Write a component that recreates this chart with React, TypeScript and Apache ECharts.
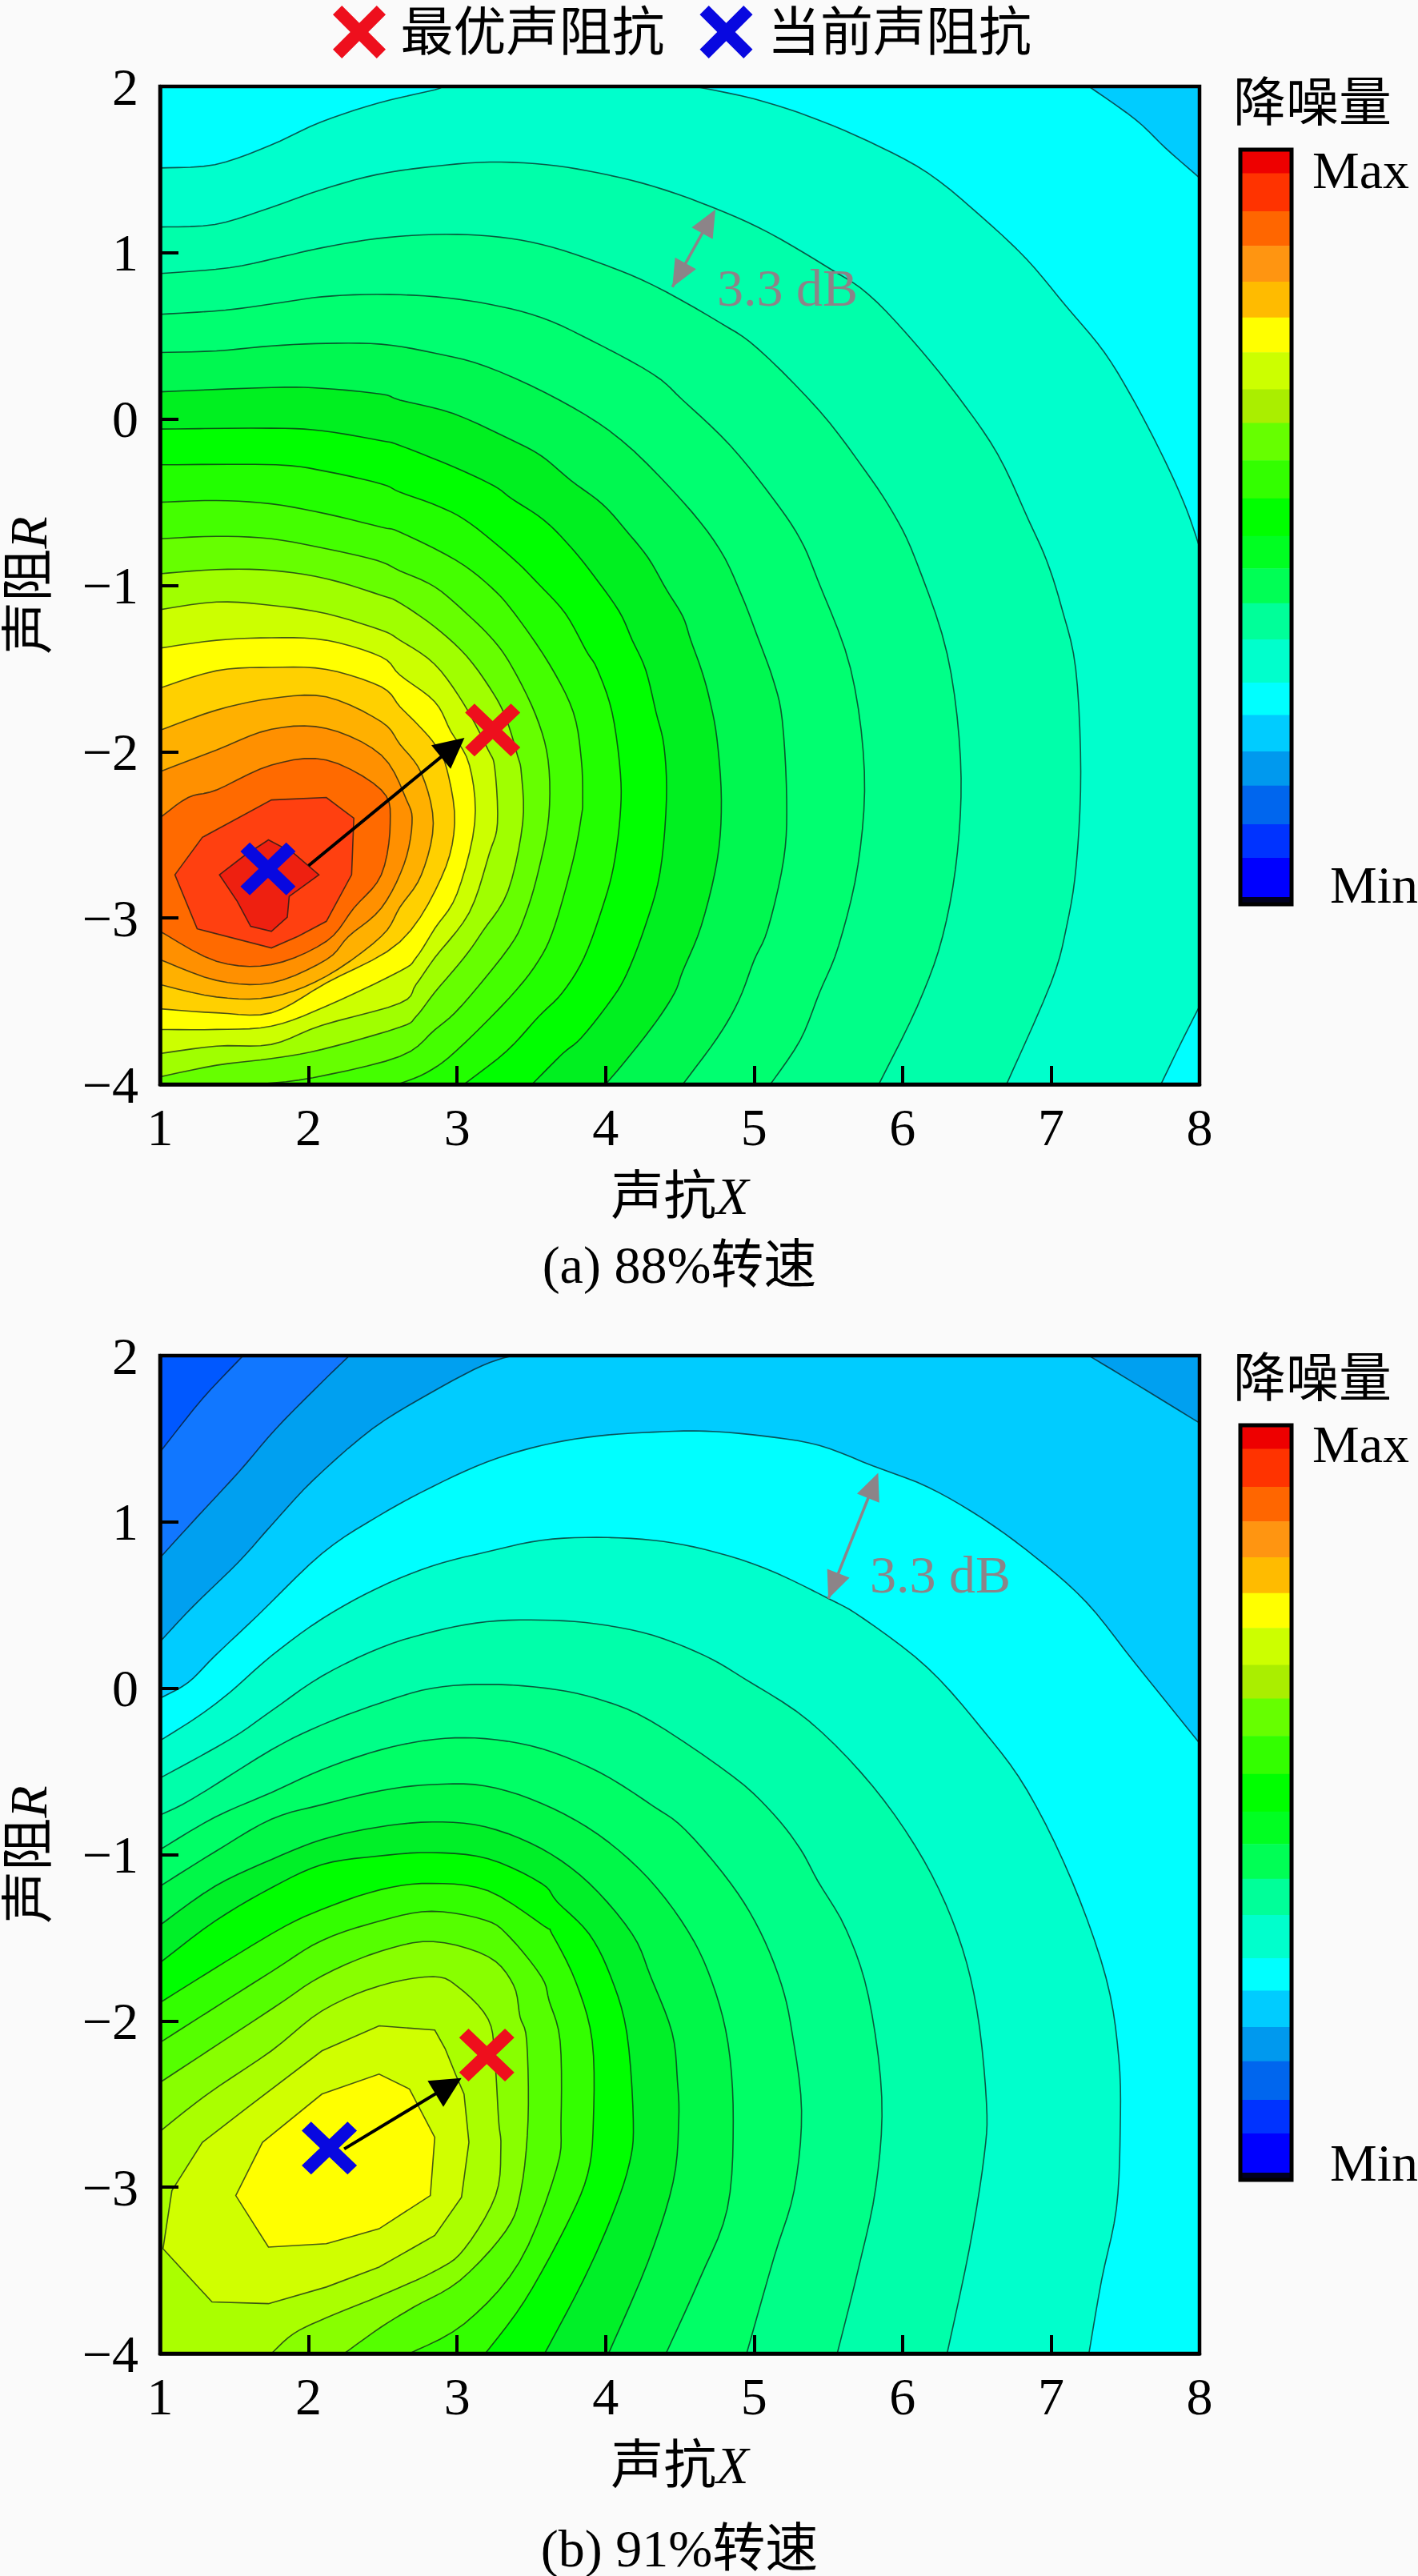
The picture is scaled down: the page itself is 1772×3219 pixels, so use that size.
import React, { useEffect, useRef } from "react";
import * as echarts from "echarts";

const SERIF = '"Liberation Serif", "Noto Sans CJK SC", serif';
const INK = "#000000";
const GREY = "#8c8488";
const X_CROSS = "path://M0 17 L17 0 L50 33 L83 0 L100 17 L67 50 L100 83 L83 100 L50 67 L17 100 L0 83 L33 50 Z";

const plotBox: number[][] = [[1, -4], [1, 2], [8, 2], [8, -4]];

// 88% speed: level curves, outermost first, [X, R]
const a0 = [[7.255, 2], [7.57, 1.8], [7.77, 1.63], [8, 1.45]];
const a1 = [[1, 1.51], [1.37, 1.53], [1.74, 1.645], [2.08, 1.785], [2.47, 1.9], [2.85, 1.98], [2.89, 2], [4.6, 2], [5, 1.925], [5.37, 1.82], [5.77, 1.67], [6.17, 1.48], [6.54, 1.21], [6.84, 0.957], [7.1, 0.68], [7.36, 0.4], [7.57, 0.09], [7.77, -0.256], [7.91, -0.537], [8, -0.77], [8, -3.53], [7.87, -3.76], [7.74, -4]];
const a2 = [[1, 1.155], [1.37, 1.17], [1.74, 1.27], [2.08, 1.377], [2.46, 1.47], [2.85, 1.52], [3.22, 1.545], [3.6, 1.53], [3.95, 1.48], [4.32, 1.4], [4.73, 1.27], [5.1, 1.12], [5.5, 0.91], [5.77, 0.75], [6.07, 0.47], [6.37, 0.14], [6.64, -0.21], [6.85, -0.61], [6.97, -0.85], [7.07, -1.13], [7.166, -1.5], [7.2, -2.12], [7.17, -2.68], [7.105, -3.05], [7, -3.39], [6.7, -4]];
const a3 = [[1, 0.875], [1.47, 0.91], [1.84, 0.98], [2.09, 1.03], [2.46, 1.085], [2.85, 1.11], [3.22, 1.1], [3.57, 1.05], [3.94, 0.945], [4.32, 0.805], [4.77, 0.58], [5.03, 0.42], [5.44, 0.05], [5.74, -0.3], [5.94, -0.57], [6.09, -0.85], [6.3, -1.41], [6.39, -2.04], [6.37, -2.6], [6.27, -3.11], [6.1, -3.53], [5.84, -4]];
const a4 = [[1, 0.63], [1.44, 0.655], [1.81, 0.7], [2.09, 0.735], [2.46, 0.75], [2.86, 0.735], [3.22, 0.69], [3.57, 0.61], [3.91, 0.47], [4.32, 0.27], [4.52, 0.114], [4.84, -0.159], [5.13, -0.48], [5.31, -0.72], [5.43, -0.97], [5.65, -1.5], [5.743, -2.12], [5.7, -2.68], [5.57, -3.165], [5.44, -3.45], [5.31, -3.736], [5.11, -4]];
const a5 = [[1, 0.4], [1.38, 0.41], [1.75, 0.44], [2.12, 0.455], [2.49, 0.45], [2.83, 0.4], [3.2, 0.315], [3.69, 0.114], [4.107, -0.127], [4.52, -0.496], [4.77, -0.785], [4.915, -1.057], [5.02, -1.3], [5.13, -1.57], [5.19, -1.81], [5.22, -2.29], [5.2, -2.646], [5.094, -3.063], [5, -3.255], [4.897, -3.496], [4.753, -3.72], [4.52, -4]];
const a6 = [[1, 0.164], [1.75, 0.19], [2.09, 0.185], [2.49, 0.15], [2.616, 0.114], [2.975, 0.033], [3.37, -0.127], [3.57, -0.223], [3.765, -0.368], [3.98, -0.512], [4.14, -0.672], [4.286, -0.833], [4.41, -1.025], [4.52, -1.186], [4.574, -1.33], [4.645, -1.506], [4.7, -1.683], [4.75, -1.92], [4.78, -2.29], [4.753, -2.646], [4.645, -3.046], [4.52, -3.319], [4.466, -3.448], [4.34, -3.624], [4.143, -3.85], [4, -4]];
const a7 = [[1, -0.06], [1.75, -0.055], [2.09, -0.07], [2.49, -0.13], [2.616, -0.159], [2.975, -0.287], [3.245, -0.4], [3.37, -0.48], [3.586, -0.608], [3.765, -0.769], [3.91, -0.929], [4.09, -1.154], [4.18, -1.33], [4.27, -1.507], [4.34, -1.763], [4.394, -1.97], [4.41, -2.29], [4.367, -2.726], [4.268, -3.046], [4.143, -3.335], [4.035, -3.496], [3.837, -3.72], [3.71, -3.816], [3.505, -4]];
const a8 = [[1, -0.275], [1.78, -0.275], [2.12, -0.315], [2.49, -0.39], [2.616, -0.44], [2.885, -0.528], [3.083, -0.624], [3.37, -0.833], [3.55, -0.993], [3.73, -1.17], [3.87, -1.394], [3.945, -1.506], [4.044, -1.763], [4.1, -2.13], [4.098, -2.389], [4.053, -2.694], [3.98, -2.934], [3.855, -3.239], [3.71, -3.448], [3.55, -3.592], [3.334, -3.8], [3.047, -4]];
const a9 = [[1, -0.5], [1.38, -0.49], [1.75, -0.51], [2.12, -0.57], [2.49, -0.65], [2.616, -0.68], [2.993, -0.849], [3.227, -1.009], [3.388, -1.17], [3.622, -1.474], [3.783, -1.763], [3.837, -2.05], [3.846, -2.29], [3.837, -2.389], [3.783, -2.646], [3.658, -3.046], [3.55, -3.255], [3.352, -3.48], [2.993, -3.8], [2.796, -3.929], [2.6, -4]];
const a10 = [[1, -0.72], [1.38, -0.705], [1.75, -0.72], [2.12, -0.78], [2.46, -0.85], [2.616, -0.913], [2.85, -1.009], [3.065, -1.17], [3.245, -1.33], [3.37, -1.49], [3.53, -1.78], [3.613, -2.05], [3.618, -2.389], [3.55, -2.71], [3.46, -2.982], [3.352, -3.175], [3.03, -3.528], [2.85, -3.672], [2.616, -3.832], [2.03, -3.96], [1.66, -4]];
const a11 = [[1, -0.93], [1.38, -0.905], [1.75, -0.91], [2.12, -0.96], [2.49, -1.06], [2.616, -1.106], [2.85, -1.25], [3.065, -1.426], [3.245, -1.65], [3.334, -1.81], [3.406, -2.02], [3.433, -2.13], [3.442, -2.43], [3.343, -2.838], [3.173, -3.079], [3.047, -3.239], [2.85, -3.447], [2.724, -3.592], [2.616, -3.656], [2.09, -3.79], [1.75, -3.845], [1.38, -3.885], [1, -3.955]];
const a12 = [[1, -1.146], [1.38, -1.1], [1.75, -1.12], [2.12, -1.17], [2.49, -1.27], [2.616, -1.33], [2.85, -1.475], [3.047, -1.715], [3.209, -1.988], [3.254, -2.1], [3.272, -2.43], [3.217, -2.613], [3.083, -2.966], [2.85, -3.239], [2.724, -3.399], [2.616, -3.512], [2.09, -3.645], [1.75, -3.76], [1.38, -3.77], [1, -3.815]];
const a13 = [[1, -1.377], [1.38, -1.33], [1.75, -1.315], [2.12, -1.33], [2.49, -1.43], [2.616, -1.54], [2.85, -1.7], [2.957, -1.876], [3.083, -2.08], [3.119, -2.43], [3, -2.854], [2.85, -3.063], [2.724, -3.239], [2.616, -3.319], [2.12, -3.53], [1.75, -3.65], [1.38, -3.67], [1, -3.67]];
const a14 = [[1, -1.617], [1.38, -1.513], [1.75, -1.493], [2.12, -1.505], [2.49, -1.61], [2.616, -1.73], [2.742, -1.843], [2.85, -1.955], [2.93, -2.1], [2.984, -2.43], [2.894, -2.758], [2.616, -3.143], [2.12, -3.39], [1.75, -3.57], [1.38, -3.57], [1, -3.546]];
const a15 = [[1, -1.871], [1.38, -1.75], [1.75, -1.68], [2.12, -1.67], [2.49, -1.82], [2.616, -1.956], [2.76, -2.13], [2.84, -2.43], [2.76, -2.74], [2.616, -2.934], [2.49, -3.11], [2.12, -3.35], [1.75, -3.475], [1.38, -3.475], [1, -3.4]];
const a16 = [[1, -2.12], [1.38, -1.99], [1.75, -1.865], [2.12, -1.86], [2.49, -2.02], [2.66, -2.29], [2.697, -2.43], [2.643, -2.677], [2.49, -2.94], [2.27, -3.11], [2.12, -3.25], [1.75, -3.39], [1.38, -3.375], [1, -3.25]];
const a17 = [[1, -2.397], [1.19, -2.275], [1.38, -2.23], [1.75, -2.08], [2.12, -2.05], [2.49, -2.23], [2.55, -2.43], [2.49, -2.74], [2.305, -2.94], [2.12, -3.14], [1.75, -3.28], [1.38, -3.26], [1, -3.08]];
const a18 = [[1.1, -2.74], [1.285, -2.515], [1.75, -2.29], [2.12, -2.275], [2.305, -2.4], [2.29, -2.74], [2.12, -3.02], [1.93, -3.11], [1.75, -3.18], [1.25, -3.065]];
const a19 = [[1.73, -2.53], [1.9, -2.61], [2.07, -2.74], [1.87, -2.87], [1.857, -2.995], [1.75, -3.08], [1.61, -3.05], [1.52, -2.9], [1.4, -2.74], [1.56, -2.63]];
const curvesA = [plotBox, a0, a1, a2, a3, a4, a5, a6, a7, a8, a9, a10, a11, a12, a13, a14, a15, a16, a17, a18, a19];
const fillsA = ["#00ccff", "#00ffff", "#00ffcc", "#00ffaa", "#00ff88", "#00ff70", "#00f850", "#00f020", "#00ff00", "#22ff00", "#44ff00", "#66ff00", "#a0ff00", "#ccff00", "#ffff00", "#ffd000", "#ffb000", "#ff9000", "#ff6a00", "#ff4010", "#ee2010"];

// 91% speed: level curves, outermost first, [X, R]
const b0 = [[1, 1.42], [1.285, 1.74], [1.56, 2], [8, 2]];
const b1 = [[1, 0.785], [1.25, 1.03], [1.53, 1.3], [1.78, 1.56], [2.09, 1.84], [2.275, 2], [8, 2]];
const b2 = [[1, 0.28], [1.22, 0.49], [1.53, 0.76], [1.75, 0.98], [2.03, 1.25], [2.43, 1.56], [2.83, 1.78], [3.17, 1.94], [3.37, 2], [7.255, 2], [7.57, 1.83], [8, 1.595]];
const b3 = [[1, -0.06], [1.19, 0.035], [1.37, 0.195], [1.66, 0.44], [2.09, 0.81], [2.46, 1.03], [2.83, 1.21], [3.2, 1.36], [3.57, 1.46], [3.94, 1.516], [4.32, 1.54], [4.67, 1.546], [5.07, 1.516], [5.44, 1.46], [5.8, 1.337], [6.17, 1.21], [6.54, 1.02], [6.9, 0.785], [7.24, 0.515], [7.57, 0.146], [8, -0.33]];
const b4 = [[1, -0.315], [1.25, -0.173], [1.47, -0.025], [1.75, 0.195], [2.09, 0.417], [2.46, 0.6], [2.83, 0.735], [3.2, 0.82], [3.57, 0.89], [3.94, 0.907], [4.32, 0.89], [4.67, 0.834], [5.07, 0.723], [5.5, 0.54], [5.74, 0.417], [6.17, 0.122], [6.54, -0.25], [6.84, -0.615], [7.14, -1.157], [7.37, -1.74], [7.456, -2.22], [7.466, -2.65], [7.44, -3.13], [7.34, -3.56], [7.255, -4]];
const b5 = [[1, -0.54], [1.47, -0.308], [1.75, -0.136], [2.09, 0.073], [2.49, 0.245], [2.85, 0.343], [3.2, 0.4], [3.57, 0.41], [3.94, 0.387], [4.32, 0.318], [4.67, 0.195], [4.93, 0.06], [5.37, -0.197], [5.8, -0.59], [6.14, -1.03], [6.37, -1.477], [6.5, -1.93], [6.565, -2.49], [6.55, -2.81], [6.45, -3.37], [6.3, -4]];
const b6 = [[1, -0.762], [1.22, -0.664], [1.75, -0.37], [2.09, -0.22], [2.49, -0.087], [2.83, 0], [3.2, 0.024], [3.6, 0], [3.94, -0.062], [4.3, -0.194], [4.86, -0.531], [5.13, -0.756], [5.31, -0.964], [5.43, -1.16], [5.62, -1.45], [5.77, -1.85], [5.86, -2.46], [5.82, -3], [5.7, -3.5], [5.56, -4]];
const b7 = [[1, -0.97], [1.37, -0.775], [1.75, -0.627], [2.09, -0.49], [2.49, -0.369], [2.85, -0.307], [3.19, -0.303], [3.568, -0.363], [3.963, -0.507], [4.32, -0.708], [4.538, -0.852], [4.843, -1.173], [5.04, -1.46], [5.184, -1.78], [5.256, -2.07], [5.32, -2.54], [5.27, -3.02], [5.135, -3.42], [4.95, -4]];
const b8 = [[1, -1.19], [1.37, -0.983], [1.75, -0.787], [2.09, -0.7], [2.49, -0.615], [2.83, -0.579], [3.19, -0.587], [3.568, -0.692], [3.945, -0.876], [4.286, -1.141], [4.556, -1.461], [4.717, -1.766], [4.825, -2.135], [4.86, -2.6], [4.82, -3.13], [4.63, -3.56], [4.407, -4]];
const b9 = [[1, -1.424], [1.37, -1.19], [1.75, -1.03], [2.09, -0.91], [2.46, -0.836], [2.83, -0.804], [3.19, -0.833], [3.568, -0.964], [3.89, -1.173], [4.18, -1.478], [4.304, -1.734], [4.448, -2.07], [4.484, -2.36], [4.493, -2.6], [4.455, -2.97], [4.285, -3.45], [4.02, -4]];
const b10 = [[1, -1.65], [1.37, -1.4], [1.75, -1.2], [2.09, -1.06], [2.46, -1.01], [2.83, -0.988], [3.21, -1.025], [3.568, -1.173], [3.675, -1.285], [3.89, -1.478], [4.035, -1.734], [4.143, -2.07], [4.187, -2.6], [4.16, -2.86], [4.04, -3.18], [3.85, -3.56], [3.59, -4]];
const b11 = [[1, -1.89], [1.75, -1.477], [2.09, -1.33], [2.49, -1.21], [2.83, -1.173], [3.21, -1.218], [3.586, -1.43], [3.64, -1.478], [3.8, -1.766], [3.91, -2.12], [3.918, -2.6], [3.88, -2.92], [3.73, -3.24], [3.45, -3.69], [3.19, -4]];
const b12 = [[1, -2.13], [1.75, -1.704], [2.09, -1.517], [2.49, -1.397], [2.83, -1.341], [3.19, -1.394], [3.352, -1.494], [3.568, -1.734], [3.62, -1.879], [3.694, -2.12], [3.7, -2.6], [3.67, -2.89], [3.42, -3.45], [3.05, -3.82], [2.68, -4]];
const b13 = [[1, -2.37], [1.75, -1.93], [2.09, -1.73], [2.49, -1.58], [2.84, -1.523], [3.21, -1.614], [3.379, -1.782], [3.424, -1.975], [3.469, -2.12], [3.478, -2.6], [3.43, -3.02], [3.33, -3.26], [3.02, -3.56], [2.71, -3.72], [2.49, -3.84], [2.24, -4]];
const b14 = [[1, -2.664], [1.32, -2.44], [1.75, -2.18], [2.09, -1.94], [2.475, -1.79], [2.84, -1.734], [3.01, -1.798], [3.21, -1.99], [3.254, -2.23], [3.28, -2.6], [3.295, -2.76], [3.26, -3.05], [3.05, -3.37], [2.86, -3.5], [2.49, -3.65], [2.12, -3.785], [1.9, -3.88], [1.75, -4]];
const b15 = [[1.08, -3.02], [1.285, -2.73], [1.59, -2.52], [2.09, -2.18], [2.475, -2.03], [2.85, -2.055], [2.92, -2.167], [2.993, -2.328], [3.047, -2.44], [3.08, -2.73], [3.03, -3.06], [2.85, -3.29], [2.475, -3.48], [2.12, -3.6], [1.73, -3.7], [1.35, -3.69], [1.02, -3.37]];
const b16 = [[1.51, -3.05], [1.69, -2.73], [2.09, -2.44], [2.475, -2.32], [2.68, -2.41], [2.85, -2.7], [2.82, -3.05], [2.475, -3.25], [2.12, -3.34], [1.73, -3.36]];
const curvesB = [plotBox, b0, b1, b2, b3, b4, b5, b6, b7, b8, b9, b10, b11, b12, b13, b14, b15, b16];
const fillsB = ["#0058ff", "#1177ff", "#00a0f0", "#00ccff", "#00ffff", "#00ffcc", "#00ffaa", "#00ff88", "#00ff66", "#00f848", "#00f028", "#00ff00", "#33ff00", "#55ff00", "#88ff00", "#aaff00", "#d0ff00", "#ffff00"];

// Optimal and current impedance, gain-direction arrow and the 3.3 dB span
const optimalA = [3.24, -1.87];
const currentA = [1.727, -2.705];
const moveA = [[2.0, -2.685], [3.05, -1.916]];
const spanA = [[4.45, 0.794], [4.74, 1.26]];
const optimalB = [3.2, -2.205];
const currentB = [2.14, -2.765];
const moveB = [[2.24, -2.77], [3.03, -2.344]];
const spanB = [[5.5, 0.539], [5.836, 1.295]];

// Colour bar, top to bottom: band edges and colours
const barEdges = [0, 42, 110, 172, 236, 300, 362, 428, 488, 555, 623, 690, 748, 810, 875, 952, 1010, 1075, 1136, 1205, 1265, 1335, 1348];
const barColors = ["#ee0000", "#ff3300", "#ff6600", "#ff9511", "#ffbb00", "#ffff00", "#ccff00", "#aaee00", "#66ff00", "#33ff00", "#00ff00", "#00ff22", "#00ff55", "#00ff99", "#00ffcc", "#00ffff", "#00ccff", "#0099ee", "#0066ee", "#0033ff", "#0000ff", "#000020"];

const xTitle = "声抗{i|X}";
const yTitle = "声阻{i|R}";
const barTitle = "降噪量";
const legendNames = ["最优声阻抗", "当前声阻抗"];

// Rounds the drawn outline between the read points; runs along the plot edge stay straight.
function rounded(p: number[][], cyclic: boolean): number[][] {
  const n = p.length;
  const at = (i: number) => (cyclic ? p[(i + n) % n] : p[Math.max(0, Math.min(n - 1, i))]);
  const out: number[][] = [];
  const segs = cyclic ? n : n - 1;
  const steps = 5;
  for (let i = 0; i < segs; i++) {
    const [p0, p1, p2, p3] = [at(i - 1), at(i), at(i + 1), at(i + 2)];
    for (let k = 0; k < steps; k++) {
      const t = k / steps;
      const f = (a: number, b: number, c: number, d: number) =>
        b + 0.5 * t * (c - a + t * (2 * a - 5 * b + 4 * c - d + t * (3 * (b - c) + d - a)));
      out.push([f(p0[0], p1[0], p2[0], p3[0]), f(p0[1], p1[1], p2[1], p3[1])]);
    }
  }
  if (!cyclic) out.push(p[n - 1]);
  return out;
}

function outline(pts: number[][], api: any): number[][] {
  const first = pts[0];
  const last = pts[pts.length - 1];
  const open = first[0] === 1 || first[1] === 2;
  if (!open) return pts.map((p) => api.coord(p));
  // split the curve where it runs along the plot's top or right edge
  const runs: number[][][] = [[pts[0]]];
  for (let i = 1; i < pts.length; i++) {
    const a = pts[i - 1];
    const b = pts[i];
    if ((a[1] === 2 && b[1] === 2) || (a[0] === 8 && b[0] === 8)) runs.push([b]);
    else runs[runs.length - 1].push(b);
  }
  const px: number[][] = [];
  runs.forEach((r) => {
    const c = r.map((p) => api.coord(p));
    px.push(...(c.length > 2 ? rounded(c, false) : c));
  });
  if (last[0] === 8) px.push(api.coord([8, -4]));
  px.push(api.coord([1, -4]));
  if (first[1] === 2 && first[0] > 1) px.push(api.coord([1, 2]));
  return px;
}

function contourSeries(curves: number[][][], fills: string[], idx: number) {
  return {
    type: "custom",
    xAxisIndex: idx,
    yAxisIndex: idx,
    z: 1,
    clip: true,
    silent: true,
    data: curves.map((_, i) => [i]),
    encode: { x: -1, y: -1 },
    renderItem: (params: any, api: any) => {
      const i = params.dataIndex;
      const points = i === 0 ? curves[0].map((p) => api.coord(p)) : outline(curves[i], api);
      return {
        type: "polygon",
        shape: { points },
        style: { fill: fills[i], stroke: i === 0 ? "none" : "rgba(10,25,25,0.72)", lineWidth: 1.6 },
      };
    },
  };
}

function arrowSeries(seg: number[][], color: string, idx: number, lineWidth: number, len: number, half: number, both: boolean) {
  return {
    type: "custom",
    xAxisIndex: idx,
    yAxisIndex: idx,
    z: 5,
    silent: true,
    data: [[0]],
    encode: { x: -1, y: -1 },
    renderItem: (_: any, api: any) => {
      const a = api.coord(seg[0]);
      const b = api.coord(seg[1]);
      const d = Math.hypot(b[0] - a[0], b[1] - a[1]);
      const ux = (b[0] - a[0]) / d;
      const uy = (b[1] - a[1]) / d;
      const head = (tip: number[], s: number) => ({
        type: "polygon",
        shape: {
          points: [
            tip,
            [tip[0] - s * ux * len - uy * half, tip[1] - s * uy * len + ux * half],
            [tip[0] - s * ux * len + uy * half, tip[1] - s * uy * len - ux * half],
          ],
        },
        style: { fill: color },
      });
      return {
        type: "group",
        children: [
          { type: "line", shape: { x1: a[0], y1: a[1], x2: b[0] - ux * len * 0.6, y2: b[1] - uy * len * 0.6 }, style: { stroke: color, lineWidth } },
          head(b, 1),
          ...(both ? [head(a, -1)] : []),
        ],
      };
    },
  };
}

function markSeries(name: string, color: string, point: number[], idx: number) {
  return {
    type: "scatter",
    name,
    xAxisIndex: idx,
    yAxisIndex: idx,
    z: 6,
    silent: true,
    symbol: X_CROSS,
    symbolSize: [69, 66],
    itemStyle: { color, opacity: 1 },
    data: [point],
  };
}

function barSeries(idx: number) {
  return {
    type: "custom",
    xAxisIndex: idx,
    yAxisIndex: idx,
    z: 1,
    silent: true,
    data: barColors.map((_, i) => [i]),
    encode: { x: -1, y: -1 },
    renderItem: (params: any, api: any) => {
      const i = params.dataIndex;
      const p0 = api.coord([0, barEdges[i]]);
      const p1 = api.coord([1, barEdges[i + 1]]);
      return {
        type: "rect",
        shape: { x: p0[0], y: p0[1], width: p1[0] - p0[0], height: p1[1] - p0[1] + 0.5 },
        style: { fill: barColors[i] },
      };
    },
  };
}

function valueX(gridIndex: number) {
  return {
    type: "value",
    gridIndex,
    min: 1,
    max: 8,
    interval: 1,
    z: 10,
    name: xTitle,
    nameLocation: "middle",
    nameGap: 106,
    nameTextStyle: { color: INK, fontSize: 66, fontFamily: SERIF, rich: { i: { fontSize: 66, fontStyle: "italic", fontFamily: SERIF, color: INK } } },
    splitLine: { show: false },
    axisLine: { show: true, onZero: false, lineStyle: { color: INK, width: 4.5 } },
    axisTick: { show: true, inside: true, length: 23, lineStyle: { color: INK, width: 4 } },
    axisLabel: { color: INK, fontSize: 66, fontFamily: SERIF, margin: 20 },
  };
}

function valueY(gridIndex: number) {
  return {
    type: "value",
    gridIndex,
    min: -4,
    max: 2,
    interval: 1,
    z: 10,
    name: yTitle,
    nameLocation: "middle",
    nameGap: 132,
    nameTextStyle: { color: INK, fontSize: 66, fontFamily: SERIF, rich: { i: { fontSize: 66, fontStyle: "italic", fontFamily: SERIF, color: INK } } },
    splitLine: { show: false },
    axisLine: { show: true, onZero: false, lineStyle: { color: INK, width: 4.5 } },
    axisTick: { show: true, inside: true, length: 23, lineStyle: { color: INK, width: 4 } },
    axisLabel: { color: INK, fontSize: 66, fontFamily: SERIF, margin: 27, formatter: (v: number) => String(v).replace("-", "\u2212") },
  };
}

function label(text: string, x: number, y: number, fill = INK, align = "center") {
  return {
    type: "text",
    z: 20,
    silent: true,
    x,
    y,
    style: { text, fill, fontSize: 66, fontFamily: SERIF, textAlign: align, textVerticalAlign: "middle" },
  };
}

export default function App() {
  const ref = useRef<HTMLDivElement>(null);
  useEffect(() => {
    const chart = echarts.init(ref.current!, undefined, { renderer: "svg" });
    const frame = { show: true, borderColor: INK, borderWidth: 4.5, backgroundColor: "transparent", z: 10, outerBoundsMode: "none" };
    const barFrame = { show: true, borderColor: INK, borderWidth: 5, backgroundColor: "transparent", z: 10, outerBoundsMode: "none" };
    chart.setOption({
      animation: false,
      backgroundColor: "#fafafa",
      legend: {
        left: 411,
        top: 2,
        itemWidth: 69,
        itemHeight: 66,
        itemGap: 44,
        selectedMode: false,
        textStyle: { color: INK, fontSize: 66, fontFamily: SERIF, padding: [0, 0, 0, 12] },
        data: legendNames.map((name) => ({ name, icon: X_CROSS })),
      },
      grid: [
        { left: 200, top: 108, width: 1299, height: 1247, ...frame },
        { left: 200, top: 1694, width: 1299, height: 1247, ...frame },
        { left: 1550, top: 187, width: 64, height: 943, ...barFrame },
        { left: 1550, top: 1781, width: 64, height: 943, ...barFrame },
      ],
      xAxis: [
        valueX(0),
        valueX(1),
        { type: "value", gridIndex: 2, min: 0, max: 1, show: false },
        { type: "value", gridIndex: 3, min: 0, max: 1, show: false },
      ],
      yAxis: [
        valueY(0),
        valueY(1),
        { type: "value", gridIndex: 2, min: 0, max: 1348, inverse: true, show: false },
        { type: "value", gridIndex: 3, min: 0, max: 1348, inverse: true, show: false },
      ],
      series: [
        contourSeries(curvesA, fillsA, 0),
        contourSeries(curvesB, fillsB, 1),
        arrowSeries(moveA, INK, 0, 4, 38, 19, false),
        arrowSeries(moveB, INK, 1, 4, 38, 19, false),
        arrowSeries(spanA, GREY, 0, 3.5, 34, 15, true),
        arrowSeries(spanB, GREY, 1, 3.5, 34, 15, true),
        markSeries(legendNames[0], "#ee0f1d", optimalA, 0),
        markSeries(legendNames[1], "#0808e0", currentA, 0),
        markSeries(legendNames[0], "#ee0f1d", optimalB, 1),
        markSeries(legendNames[1], "#0808e0", currentB, 1),
        barSeries(2),
        barSeries(3),
      ],
      graphic: [
        label("(a) 88%转速", 849, 1580),
        label("(b) 91%转速", 849, 3184),
        label(barTitle, 1640, 128),
        label(barTitle, 1640, 1722),
        label("Max", 1640, 212, INK, "left"),
        label("Max", 1640, 1804, INK, "left"),
        label("Min", 1662, 1105, INK, "left"),
        label("Min", 1662, 2702, INK, "left"),
        label("3.3 dB", 984, 359, GREY),
        label("3.3 dB", 1175, 1967, GREY),
      ],
    });
    return () => chart.dispose();
  }, []);
  return <div ref={ref} style={{ position: "absolute", left: 0, top: 0, width: 1772, height: 3219 }} />;
}
